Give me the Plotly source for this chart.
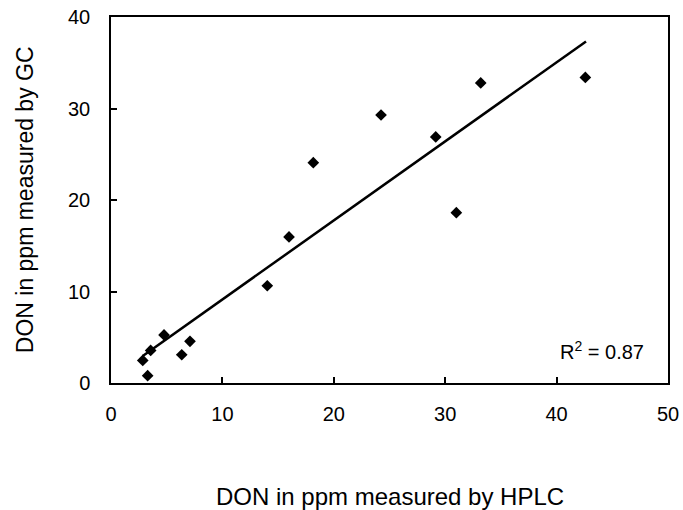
import plotly.graph_objects as go

hplc = [2.85, 3.29, 3.56, 4.76, 6.35, 7.09, 14.03, 15.98, 18.16, 24.24, 29.15, 31.0, 33.19, 42.58]
gc = [2.47, 0.80, 3.56, 5.25, 3.09, 4.55, 10.63, 15.96, 24.08, 29.29, 26.89, 18.61, 32.79, 33.4]

# linear trendline ends
trend_x = [2.85, 42.64]
trend_y = [2.95, 37.33]

r2_text = "R<sup>2</sup> = 0.87"

font_name = "Liberation Sans, Arial, sans-serif"

fig = go.Figure()
fig.add_trace(go.Scatter(x=trend_x, y=trend_y, mode="lines",
                         line=dict(color="black", width=2.5), showlegend=False))
fig.add_trace(go.Scatter(x=hplc, y=gc, mode="markers",
                         marker=dict(symbol="diamond", size=9, color="black"),
                         showlegend=False))

fig.update_xaxes(range=[0, 50], tickvals=[0, 10, 20, 30, 40, 50], automargin=False,
                 showline=True, linecolor="black", linewidth=1.5, mirror=True,
                 ticks="inside", ticklen=6, tickcolor="black", tickwidth=1.5,
                 showgrid=False, zeroline=False, ticklabelstandoff=12,
                 tickfont=dict(family=font_name, size=20, color="black"))
fig.update_yaxes(range=[0, 40], tickvals=[0, 10, 20, 30, 40], automargin=False,
                 showline=True, linecolor="black", linewidth=1.5, mirror=True,
                 ticks="inside", ticklen=6, tickcolor="black", tickwidth=1.5,
                 showgrid=False, zeroline=False, ticklabelstandoff=15,
                 tickfont=dict(family=font_name, size=20, color="black"))

fig.add_annotation(text=r2_text, x=44.1, y=3.6, xref="x", yref="y", showarrow=False,
                   font=dict(family=font_name, size=20, color="black"))
fig.add_annotation(text="DON in ppm measured by HPLC", x=0.5, y=-0.31, xref="paper", yref="paper",
                   xanchor="center", yanchor="middle", showarrow=False,
                   font=dict(family=font_name, size=24, color="black"))
fig.add_annotation(text="DON in ppm measured by GC", x=-0.154, y=0.5, xref="paper", yref="paper",
                   xanchor="center", yanchor="middle", textangle=-90, showarrow=False,
                   font=dict(family=font_name, size=23, color="black"))

fig.update_layout(width=683, height=510, autosize=False,
                  margin=dict(l=111, r=15, t=17, b=127),
                  plot_bgcolor="white", paper_bgcolor="white")

# drop the default body margin so the figure sits at the page corner
fig.write_html("out.html", config={"displayModeBar": False},
               post_script="document.body.style.margin = '0';")
